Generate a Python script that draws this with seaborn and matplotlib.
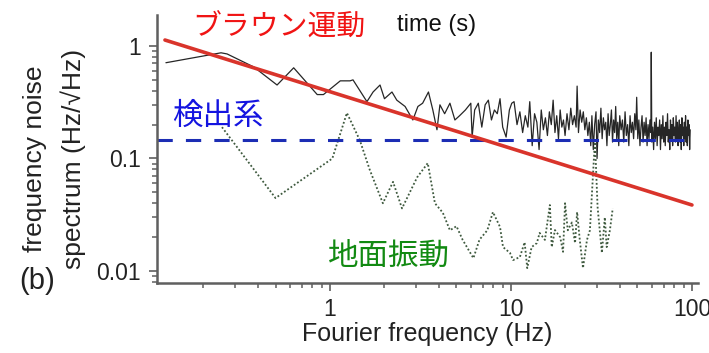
import matplotlib
matplotlib.use("Agg")
import matplotlib.pyplot as plt
from matplotlib.ticker import FixedLocator, LogLocator, NullFormatter
import seaborn as sns
import pandas as pd

# ---- data ----
# measured frequency noise spectrum (black)
noise_f_low = [0.124, 0.25, 0.27, 0.38, 0.51, 0.63, 0.85, 0.92, 1.14, 1.29,
               1.34, 1.6, 1.73, 1.89, 2.0, 2.2, 2.34, 2.6, 2.87, 3.06,
               3.25, 3.5, 3.7, 3.9, 4.05, 4.3, 4.6, 4.9, 5.2, 5.6,
               6.0, 6.1, 6.3, 6.6, 6.9, 7.2, 7.5, 7.8, 8.1, 8.4,
               8.7, 9.0, 9.4, 9.8, 10.1]
noise_a_low = [0.71, 0.87, 0.85, 0.65, 0.45, 0.64, 0.37, 0.37, 0.49, 0.49,
               0.50, 0.32, 0.39, 0.45, 0.34, 0.39, 0.33, 0.29, 0.22, 0.29,
               0.31, 0.39, 0.27, 0.18, 0.30, 0.25, 0.31, 0.22, 0.24, 0.27,
               0.31, 0.155, 0.27, 0.31, 0.19, 0.30, 0.33, 0.22, 0.27, 0.25,
               0.34, 0.19, 0.155, 0.27, 0.31]
noise_f_high = [10.4, 10.8, 11.2, 11.6, 12.0, 12.4, 12.7, 13.1, 13.5, 13.9,
                14.3, 14.7, 15.1, 15.5, 15.9, 16.3, 16.7, 17.1, 17.5, 17.9,
                18.3, 18.7, 19.1, 19.5, 19.9, 20.4, 20.9, 21.4, 21.9, 22.4,
                22.9, 23.2, 23.6, 24.1, 24.6, 25.1, 25.6, 26.1, 26.6, 27.1,
                27.6, 28.0, 28.5, 29.0, 29.5, 29.9, 30.4, 30.9, 31.4, 31.9,
                32.4, 32.9, 33.4, 33.9, 34.4, 34.9, 35.4, 35.9, 36.4, 36.9,
                37.4, 37.9, 38.4, 38.9, 39.4, 39.9, 40.6, 41.3, 42.0, 42.7,
                43.4, 44.1, 44.8, 45.5, 46.2, 46.9, 47.6, 48.3, 49.0, 49.5,
                50.2, 50.9, 51.6, 52.3, 53.0, 53.7, 54.4, 55.1, 55.8, 56.5,
                57.2, 57.9, 58.6, 59.3, 59.6, 60.0, 60.7, 61.4, 62.1, 62.8,
                63.5, 64.2, 64.9, 65.6, 66.3, 67.0, 67.7, 68.4, 69.1, 69.8,
                70.5, 71.2, 71.9, 72.6, 73.3, 74.0, 74.7, 75.4, 76.1, 76.8,
                77.5, 78.2, 78.9, 79.6, 80.3, 81.0, 81.7, 82.4, 83.1, 83.8,
                84.5, 85.2, 85.9, 86.6, 87.3, 88.0, 88.7, 89.4, 90.1, 90.8,
                91.5, 92.2, 92.9, 93.6, 94.3, 95.0, 95.7, 96.4, 97.1, 97.8]
noise_a_high = [0.32, 0.20, 0.26, 0.17, 0.24, 0.19, 0.32, 0.13, 0.25, 0.21,
                0.12, 0.27, 0.18, 0.23, 0.16, 0.26, 0.20, 0.33, 0.17, 0.24,
                0.15, 0.27, 0.19, 0.22, 0.16, 0.25, 0.18, 0.28, 0.20, 0.24,
                0.19, 0.44, 0.17, 0.27, 0.21, 0.26, 0.18, 0.23, 0.16, 0.21,
                0.13, 0.24, 0.12, 0.20, 0.26, 0.10, 0.22, 0.17, 0.28, 0.15,
                0.23, 0.18, 0.21, 0.13, 0.25, 0.16, 0.20, 0.27, 0.14, 0.22,
                0.17, 0.29, 0.15, 0.21, 0.13, 0.24, 0.18, 0.22, 0.14, 0.26,
                0.16, 0.20, 0.13, 0.24, 0.17, 0.21, 0.15, 0.25, 0.18, 0.35,
                0.15, 0.22, 0.13, 0.19, 0.24, 0.14, 0.21, 0.16, 0.23, 0.13,
                0.20, 0.15, 0.22, 0.17, 0.88, 0.14, 0.19, 0.12, 0.21, 0.15,
                0.23, 0.13, 0.19, 0.16, 0.22, 0.12, 0.20, 0.15, 0.24, 0.14,
                0.19, 0.13, 0.21, 0.16, 0.25, 0.14, 0.18, 0.12, 0.22, 0.15,
                0.20, 0.13, 0.23, 0.16, 0.19, 0.14, 0.24, 0.15, 0.21, 0.13,
                0.18, 0.22, 0.14, 0.20, 0.12, 0.23, 0.16, 0.19, 0.13, 0.21,
                0.15, 0.24, 0.14, 0.19, 0.13, 0.22, 0.16, 0.20, 0.12, 0.18]

# ground vibration (green dotted)
ground_f = [0.253, 0.50, 1.03, 1.24, 1.46, 1.66, 1.96, 2.23, 2.5, 3.03,
            3.47, 3.8, 4.2, 4.6, 5.0, 5.4, 6.2, 6.7, 7.4, 7.95,
            8.7, 9.04, 9.87, 10.27, 11.2, 11.9, 12.3, 13.0, 13.9, 14.4,
            15.4, 16.4, 16.8, 17.5, 18.7, 19.4, 19.9, 20.6, 21.7, 22.6,
            23.2, 24.0, 25.0, 26.3, 27.3, 29.1, 30.1, 31.8, 33.0, 33.8,
            35.2, 36.5]
ground_a = [0.19, 0.0445, 0.10, 0.254, 0.146, 0.079, 0.040, 0.062, 0.036, 0.068,
            0.091, 0.040, 0.033, 0.023, 0.025, 0.019, 0.013, 0.019, 0.023, 0.0334,
            0.0246, 0.0163, 0.0145, 0.0125, 0.0133, 0.018, 0.0106, 0.0163, 0.0177, 0.0218,
            0.0189, 0.0386, 0.0163, 0.0231, 0.020, 0.0148, 0.040, 0.023, 0.027, 0.0177,
            0.0334, 0.0189, 0.0106, 0.0189, 0.023, 0.146, 0.037, 0.0145, 0.030, 0.0163,
            0.023, 0.036]

# Brownian motion (red) and detection floor (blue dashed)
brown_f = [0.1225, 100.0]
brown_a = [1.13, 0.0386]
detect_f = [0.111, 100.0]
detect_a = [0.147, 0.147]

x_major = [1, 10, 100]
x_labels = ["1", "10", "100"]
y_major = [0.01, 0.1, 1]
y_labels = ["0.01", "0.1", "1"]

# ---- style ----
sns.set_theme(style="white")
plt.rcParams["font.family"] = ["Liberation Sans", "Noto Sans CJK JP", "DejaVu Sans"]
CJK = ["Noto Sans CJK JP", "DejaVu Sans"]

fig = plt.figure(figsize=(7.09, 3.53), dpi=100)
fig.patch.set_facecolor("white")
ax = fig.add_axes([157 / 709, 70 / 353, 541 / 709, 268 / 353])
ax.set_xscale("log")
ax.set_yscale("log")

noise = pd.DataFrame({"f": noise_f_low + noise_f_high, "a": noise_a_low + noise_a_high})
ground = pd.DataFrame({"f": ground_f, "a": ground_a})
brown = pd.DataFrame({"f": brown_f, "a": brown_a})
detect = pd.DataFrame({"f": detect_f, "a": detect_a})

sns.lineplot(data=noise, x="f", y="a", ax=ax, sort=False, estimator=None,
             color="#262626", lw=0.9)
sns.lineplot(data=ground, x="f", y="a", ax=ax, sort=False, estimator=None,
             color="#3f5a3f", lw=1.3, linestyle=(0, (1, 1.2)))
sns.lineplot(data=detect, x="f", y="a", ax=ax, sort=False, estimator=None,
             color="#1c2db4", lw=2.2, linestyle=(0, (5, 4.3)))
sns.lineplot(data=brown, x="f", y="a", ax=ax, sort=False, estimator=None,
             color="#d9342b", lw=2.6)

ax.set_xlim(0.1107, 108)
ax.set_ylim(0.00782, 1.886)

ax.xaxis.set_major_locator(FixedLocator(x_major))
ax.set_xticklabels(x_labels)
ax.xaxis.set_minor_locator(LogLocator(base=10, subs=range(2, 10)))
ax.xaxis.set_minor_formatter(NullFormatter())
ax.yaxis.set_major_locator(FixedLocator(y_major))
ax.set_yticklabels(y_labels)
ax.yaxis.set_minor_locator(LogLocator(base=10, subs=range(2, 10)))
ax.yaxis.set_minor_formatter(NullFormatter())

spine_c = "#5f5f5f"
for s in ["top", "right"]:
    ax.spines[s].set_visible(False)
for s in ["left", "bottom"]:
    ax.spines[s].set_color(spine_c)
    ax.spines[s].set_linewidth(1.8)
ax.tick_params(which="major", direction="out", length=6, width=1.2, color=spine_c,
               labelsize=16.5, labelcolor="#222222")
ax.tick_params(which="minor", direction="out", length=3.6, width=1.1, color=spine_c)
ax.tick_params(axis="y", which="both", left=True, pad=5.5)
ax.tick_params(axis="x", which="both", bottom=True, pad=5)
ax.grid(False)

ax.set_xlabel("Fourier frequency (Hz)", fontsize=18, color="#222222")
ax.xaxis.set_label_coords(0.5, -0.147)
ax.set_ylabel("")

fig.text(35.5 / 709, 1 - 159 / 353, "frequency noise", rotation=90, fontsize=19,
         ha="center", va="center", color="#222222")
fig.text(73 / 709, 1 - 159 / 353, "spectrum (Hz/√Hz)", rotation=90, fontsize=19,
         ha="center", va="center", color="#222222")
fig.text(37 / 709, 1 - 281 / 353, "(b)", fontsize=21, ha="center", va="center",
         color="#222222")
fig.text(397 / 709, 1 - 25 / 353, "time (s)", fontsize=17, ha="left", va="center",
         color="#111111")

fig.text(192 / 709, 1 - 28 / 353, "ブラウン運動", fontsize=20.8, family=CJK,
         ha="left", va="center", color="#f01414")
fig.text(172 / 709, 1 - 116 / 353, "検出系", fontsize=22, family=CJK,
         ha="left", va="center", color="#1414e0")
fig.text(328 / 709, 1 - 256 / 353, "地面振動", fontsize=22, family=CJK,
         ha="left", va="center", color="#128a12")

fig.savefig("out.png", dpi=100, facecolor="white")
